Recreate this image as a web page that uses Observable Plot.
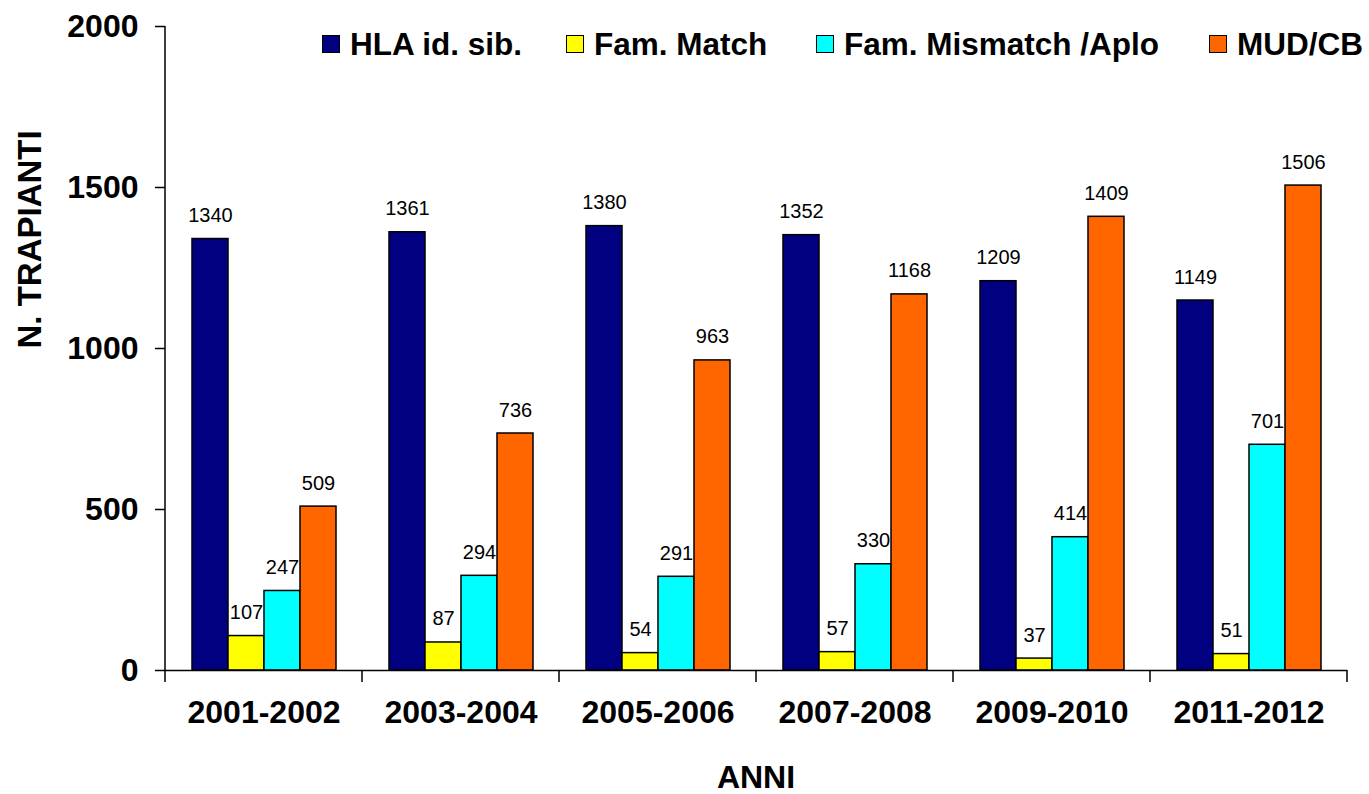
<!DOCTYPE html>
<html>
<head>
<meta charset="utf-8">
<script src="https://cdn.jsdelivr.net/npm/d3@7"></script>
<script src="https://cdn.jsdelivr.net/npm/@observablehq/plot@0.6"></script>
<style>
  body { margin: 0; background: #fff; }
  #wrap { position: relative; width: 1369px; height: 794px; font-family: Arial, "Liberation Sans", sans-serif; }
  .legend-item { position: absolute; top: 35px; height: 18px; display: flex; align-items: center; white-space: nowrap; }
  .legend-item .sw { width: 16px; height: 16px; border: 1px solid #000; box-sizing: content-box; margin-right: 10px; flex: none; }
  .legend-item .lb { font-size: 31.5px; font-weight: bold; line-height: 18px; color: #000; }
  #xtitle { position: absolute; top: 761px; left: 165px; width: 1182px; text-align: center; font-size: 32px; font-weight: bold; line-height: 32px; }
</style>
</head>
<body>
<div id="wrap"></div>
<script>
const periods = ["2001-2002", "2003-2004", "2005-2006", "2007-2008", "2009-2010", "2011-2012"];
const series = ["HLA id. sib.", "Fam. Match", "Fam. Mismatch /Aplo", "MUD/CB"];
const colors = ["#000080", "#FFFF00", "#00FFFF", "#FF6600"];
const hlaIdSib = [1340, 1361, 1380, 1352, 1209, 1149];
const famMatch = [107, 87, 54, 57, 37, 51];
const famMismatch = [247, 294, 291, 330, 414, 701];
const mudCb = [509, 736, 963, 1168, 1409, 1506];
const yTicks = [0, 500, 1000, 1500, 2000];
const yTitle = "N. TRAPIANTI";
const xTitle = "ANNI";

const seriesValues = [hlaIdSib, famMatch, famMismatch, mudCb];
const data = periods.flatMap((p, i) =>
  seriesValues.map((arr, j) => ({ period: p, series: series[j], value: arr[i] }))
);

const plot = Plot.plot({
  width: 1369,
  height: 794,
  marginLeft: 165,
  marginRight: 22,
  marginTop: 26,
  marginBottom: 124,
  style: { fontFamily: 'Arial, "Liberation Sans", sans-serif', background: "transparent", overflow: "visible", color: "#000" },
  fx: { domain: periods, padding: 0, label: null, axis: null },
  x: { domain: series, paddingInner: 0, paddingOuter: 0.736, axis: null },
  y: { domain: [0, 2000], label: null },
  color: { domain: series, range: colors },
  marks: [
    Plot.barY(data, { fx: "period", x: "series", y: "value", fill: "series", stroke: "#000", strokeWidth: 1.5 }),
    Plot.text(data, { fx: "period", x: "series", y: "value", text: d => String(d.value), lineAnchor: "bottom", dy: -17, fontSize: 20, fill: "#000" }),
    Plot.ruleY([0], { stroke: "#000", strokeWidth: 1.5 }),
    Plot.axisY({ ticks: yTicks, tickSize: 10, tickPadding: 17, fontSize: 32, fontWeight: "bold", label: null, tickFormat: d => String(d), strokeWidth: 1.5 }),
    Plot.axisFx({ anchor: "bottom", tickSize: 0, tickPadding: 30, fontSize: 32, fontWeight: "bold", label: null }),
    Plot.text([yTitle], { fx: () => periods[0], text: d => d, frameAnchor: "left", rotate: -90, dx: -135, fontSize: 33, fontWeight: "bold", fill: "#000" })
  ]
});

const wrap = document.getElementById("wrap");
wrap.appendChild(plot);

// axis lines and group boundary ticks from the library's scales
const fx = plot.scale("fx");
const y = plot.scale("y");
const svg = d3.select(plot);
const g = svg.append("g").attr("stroke", "#000").attr("stroke-width", 1.5);
const x0 = fx.apply(periods[0]);
g.append("line").attr("x1", x0).attr("x2", x0).attr("y1", y.apply(2000)).attr("y2", y.apply(0));
const bounds = periods.map(p => fx.apply(p)).concat([fx.apply(periods[periods.length - 1]) + fx.bandwidth]);
bounds.forEach(b => {
  g.append("line").attr("x1", b).attr("x2", b).attr("y1", y.apply(0)).attr("y2", y.apply(0) + 12);
});

// legend
const legendLefts = [322, 566, 816, 1209];
series.forEach((s, i) => {
  const item = document.createElement("div");
  item.className = "legend-item";
  item.style.left = legendLefts[i] + "px";
  const sw = document.createElement("span");
  sw.className = "sw";
  sw.style.background = colors[i];
  const lb = document.createElement("span");
  lb.className = "lb";
  lb.textContent = s;
  item.appendChild(sw);
  item.appendChild(lb);
  wrap.appendChild(item);
});

const xt = document.createElement("div");
xt.id = "xtitle";
xt.textContent = xTitle;
wrap.appendChild(xt);
</script>
</body>
</html>
